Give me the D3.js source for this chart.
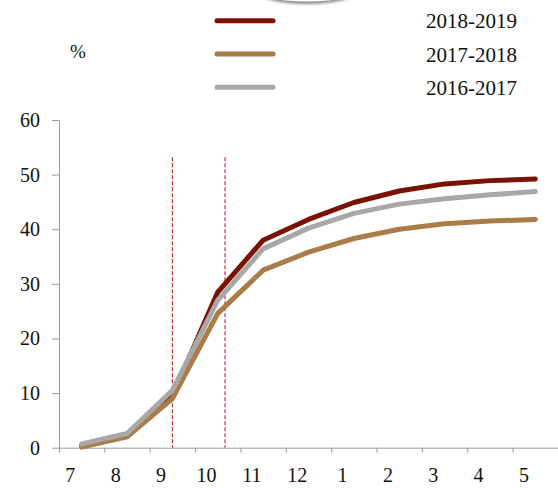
<!DOCTYPE html>
<html>
<head>
<meta charset="utf-8">
<script src="https://cdn.jsdelivr.net/npm/d3@7"></script>
<style>
html,body{margin:0;padding:0;background:#fff;}
svg{display:block;}
text{font-family:"Liberation Serif","Times New Roman",serif;fill:#111;}
</style>
</head>
<body>
<svg id="chart" width="558" height="488"></svg>
<script>
// ---- data ----
const months = ["7","8","9","10","11","12","1","2","3","4","5"];
const s2018_2019 = [0.3, 2.2, 9.5, 28.5, 38.0, 41.8, 44.9, 47.0, 48.3, 48.9, 49.2];
const s2017_2018 = [0.1, 2.0, 9.0, 24.6, 32.5, 35.8, 38.3, 40.0, 41.0, 41.5, 41.8];
const s2016_2017 = [0.7, 2.6, 10.5, 27.0, 36.4, 40.2, 42.9, 44.6, 45.6, 46.3, 46.9];
const seriesNames = ["2018-2019", "2017-2018", "2016-2017"];
const seriesColors = ["#7a1203", "#a97c48", "#a8a8a8"];
const yTicks = [0, 10, 20, 30, 40, 50, 60];
const markerPositions = [2.5, 3.66]; // in category units (vertical dashed lines)

const svg = d3.select("#chart");
const W = 558, H = 488;
const margin = {left: 59, right: 0, top: 120, bottom: 40.3};

const x = d3.scaleLinear().domain([0, months.length]).range([margin.left, W - margin.right]);
const y = d3.scaleLinear().domain([0, 60]).range([H - margin.bottom, margin.top]);

// decorative shadow arc at the top
const defs = svg.append("defs");
defs.append("filter").attr("id", "blur").attr("x", "-50%").attr("y", "-50%").attr("width", "200%").attr("height", "200%")
  .append("feGaussianBlur").attr("stdDeviation", 1.6);
svg.append("ellipse").attr("cx", 307).attr("cy", -9).attr("rx", 50).attr("ry", 13)
  .attr("fill", "#8a8a8a").attr("filter", "url(#blur)");
svg.append("ellipse").attr("cx", 307).attr("cy", -12).attr("rx", 56).attr("ry", 13.5)
  .attr("fill", "#fff");

// axes
const axisColor = "#9a9a9a";
const yAxis = svg.append("g").attr("transform", `translate(${margin.left},0)`)
  .call(d3.axisLeft(y).tickValues(yTicks).tickSize(7).tickPadding(12).tickSizeOuter(0));
yAxis.select(".domain").attr("stroke", axisColor);
yAxis.selectAll(".tick line").attr("stroke", axisColor);
yAxis.selectAll(".tick text").attr("font-size", 20).attr("font-family", "Liberation Serif, serif").attr("fill", "#111");

const xAxis = svg.append("g").attr("transform", `translate(0,${y(0)})`)
  .call(d3.axisBottom(x).tickValues(d3.range(0, months.length + 1)).tickSize(5).tickFormat("").tickSizeOuter(0));
xAxis.select(".domain").attr("stroke", axisColor);
xAxis.selectAll(".tick line").attr("stroke", axisColor);

svg.append("g").selectAll("text").data(months).join("text")
  .attr("x", (d, i) => x(i + 0.25))
  .attr("y", y(0) + 34)
  .attr("text-anchor", "middle")
  .attr("font-size", 20)
  .text(d => d);

// dashed markers
svg.append("g").selectAll("line").data(markerPositions).join("line")
  .attr("x1", d => x(d)).attr("x2", d => x(d))
  .attr("y1", y(53.2)).attr("y2", y(0))
  .attr("stroke", "#b3262b").attr("stroke-width", 1.1)
  .attr("stroke-dasharray", "4,2");

// lines
const line = d3.line().x((d, i) => x(i + 0.5)).y(d => y(d));
const series = [s2018_2019, s2017_2018, s2016_2017];
svg.append("g").selectAll("path").data(series).join("path")
  .attr("d", d => line(d))
  .attr("fill", "none")
  .attr("stroke", (d, i) => seriesColors[i])
  .attr("stroke-width", 5)
  .attr("stroke-linejoin", "round")
  .attr("stroke-linecap", "round");

// legend
const legend = svg.append("g");
const legY = d3.scaleLinear().domain([0, 1]).range([20.7, 54]);
seriesNames.forEach((name, i) => {
  legend.append("line")
    .attr("x1", 217).attr("x2", 273)
    .attr("y1", legY(i)).attr("y2", legY(i))
    .attr("stroke", seriesColors[i]).attr("stroke-width", 5).attr("stroke-linecap", "round");
  legend.append("text")
    .attr("x", 426).attr("y", legY(i) + 7.5)
    .attr("font-size", 21)
    .text(name);
});
svg.append("text").attr("x", 70).attr("y", 58).attr("font-size", 19).text("%");
</script>
</body>
</html>
